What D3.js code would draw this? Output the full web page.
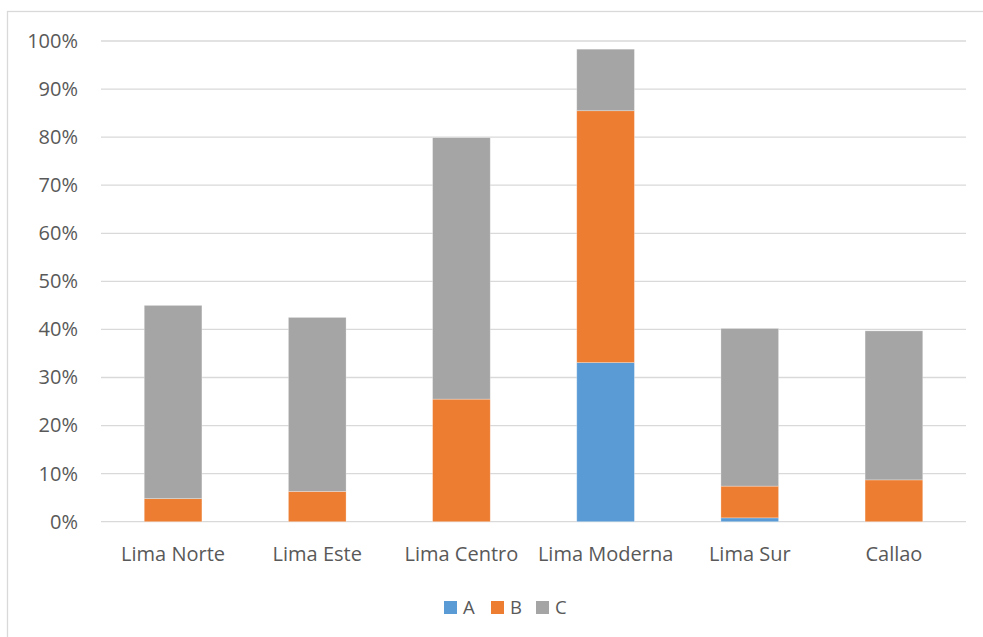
<!DOCTYPE html>
<html>
<head>
<meta charset="utf-8">
<script src="https://cdn.jsdelivr.net/npm/d3@7/dist/d3.min.js"></script>
<style>
  html, body { margin: 0; padding: 0; background: #fff; }
  svg { display: block; font-family: "Open Sans", "Noto Sans", sans-serif; }
</style>
</head>
<body>
<svg id="chart" width="983" height="637"></svg>
<script>
// Share of each zone by segment (percent)
const categories = ["Lima Norte", "Lima Este", "Lima Centro", "Lima Moderna", "Lima Sur", "Callao"];
const seriesNames = ["A", "B", "C"];
const valuesA = [0, 0, 0, 33.1, 0.8, 0];
const valuesB = [4.8, 6.3, 25.5, 52.4, 6.6, 8.7];
const valuesC = [40.2, 36.2, 54.4, 12.8, 32.8, 31.0];
const yTicks = [0, 10, 20, 30, 40, 50, 60, 70, 80, 90, 100];
const colors = ["#5B9BD5", "#ED7D31", "#A5A5A5"];

const FONT = "'Open Sans', 'Noto Sans', sans-serif";
const FS = 20;
const TEXT = "#595959";

const svg = d3.select("#chart");
const x0 = 101, x1 = 966;
const yTop = 41, yBot = 521.7;

// outer chart frame
svg.append("rect")
  .attr("x", 7.5).attr("y", 11.5)
  .attr("width", 1000).attr("height", 700)
  .attr("fill", "#fff").attr("stroke", "#D9D9D9").attr("stroke-width", 1.3);

const x = d3.scaleBand().domain(categories).range([x0, x1]).paddingInner(0.6).paddingOuter(0.3);
const y = d3.scaleLinear().domain([0, 100]).range([yBot, yTop]);

// horizontal gridlines
svg.append("g").selectAll("line").data(yTicks).join("line")
  .attr("x1", x0).attr("x2", x1)
  .attr("y1", d => y(d)).attr("y2", d => y(d))
  .attr("stroke", "#D9D9D9").attr("stroke-width", 1.3);

// y axis labels
const yAxis = d3.axisLeft(y).tickValues(yTicks).tickFormat(d => d + "%").tickSize(0).tickPadding(0);
svg.append("g")
  .attr("transform", "translate(78,0)")
  .call(yAxis)
  .call(g => g.select(".domain").remove())
  .call(g => g.selectAll("text")
    .attr("fill", TEXT).attr("font-size", FS).attr("font-family", FONT));

// stacked bars
const table = categories.map((c, i) => ({ cat: c, A: valuesA[i], B: valuesB[i], C: valuesC[i] }));
const stacked = d3.stack().keys(seriesNames)(table);

svg.append("g").selectAll("g").data(stacked).join("g")
  .attr("fill", (d, i) => colors[i])
  .selectAll("rect").data(d => d.filter(s => s[1] - s[0] > 0)).join("rect")
  .attr("x", d => x(d.data.cat))
  .attr("width", x.bandwidth())
  .attr("y", d => y(d[1]))
  .attr("height", d => y(d[0]) - y(d[1]))
  .attr("stroke", "rgba(255,255,255,0.35)").attr("stroke-width", 0.8);

// category axis
const xAxis = d3.axisBottom(x).tickSize(0).tickPadding(0);
svg.append("g")
  .attr("transform", `translate(0,${yBot})`)
  .call(xAxis)
  .call(g => g.select(".domain").remove())
  .call(g => g.selectAll("text")
    .attr("dy", 0).attr("y", 39)
    .attr("fill", TEXT).attr("font-size", FS).attr("font-family", FONT));

// legend
const legendX = [444, 491, 536];
const legend = svg.append("g").selectAll("g").data(seriesNames).join("g")
  .attr("transform", (d, i) => `translate(${legendX[i]},601)`);
legend.append("rect").attr("width", 13).attr("height", 13).attr("fill", (d, i) => colors[i]);
legend.append("text").attr("x", 19).attr("y", 13)
  .attr("fill", TEXT).attr("font-size", 18.5).attr("font-family", FONT).text(d => d);
</script>
</body>
</html>
